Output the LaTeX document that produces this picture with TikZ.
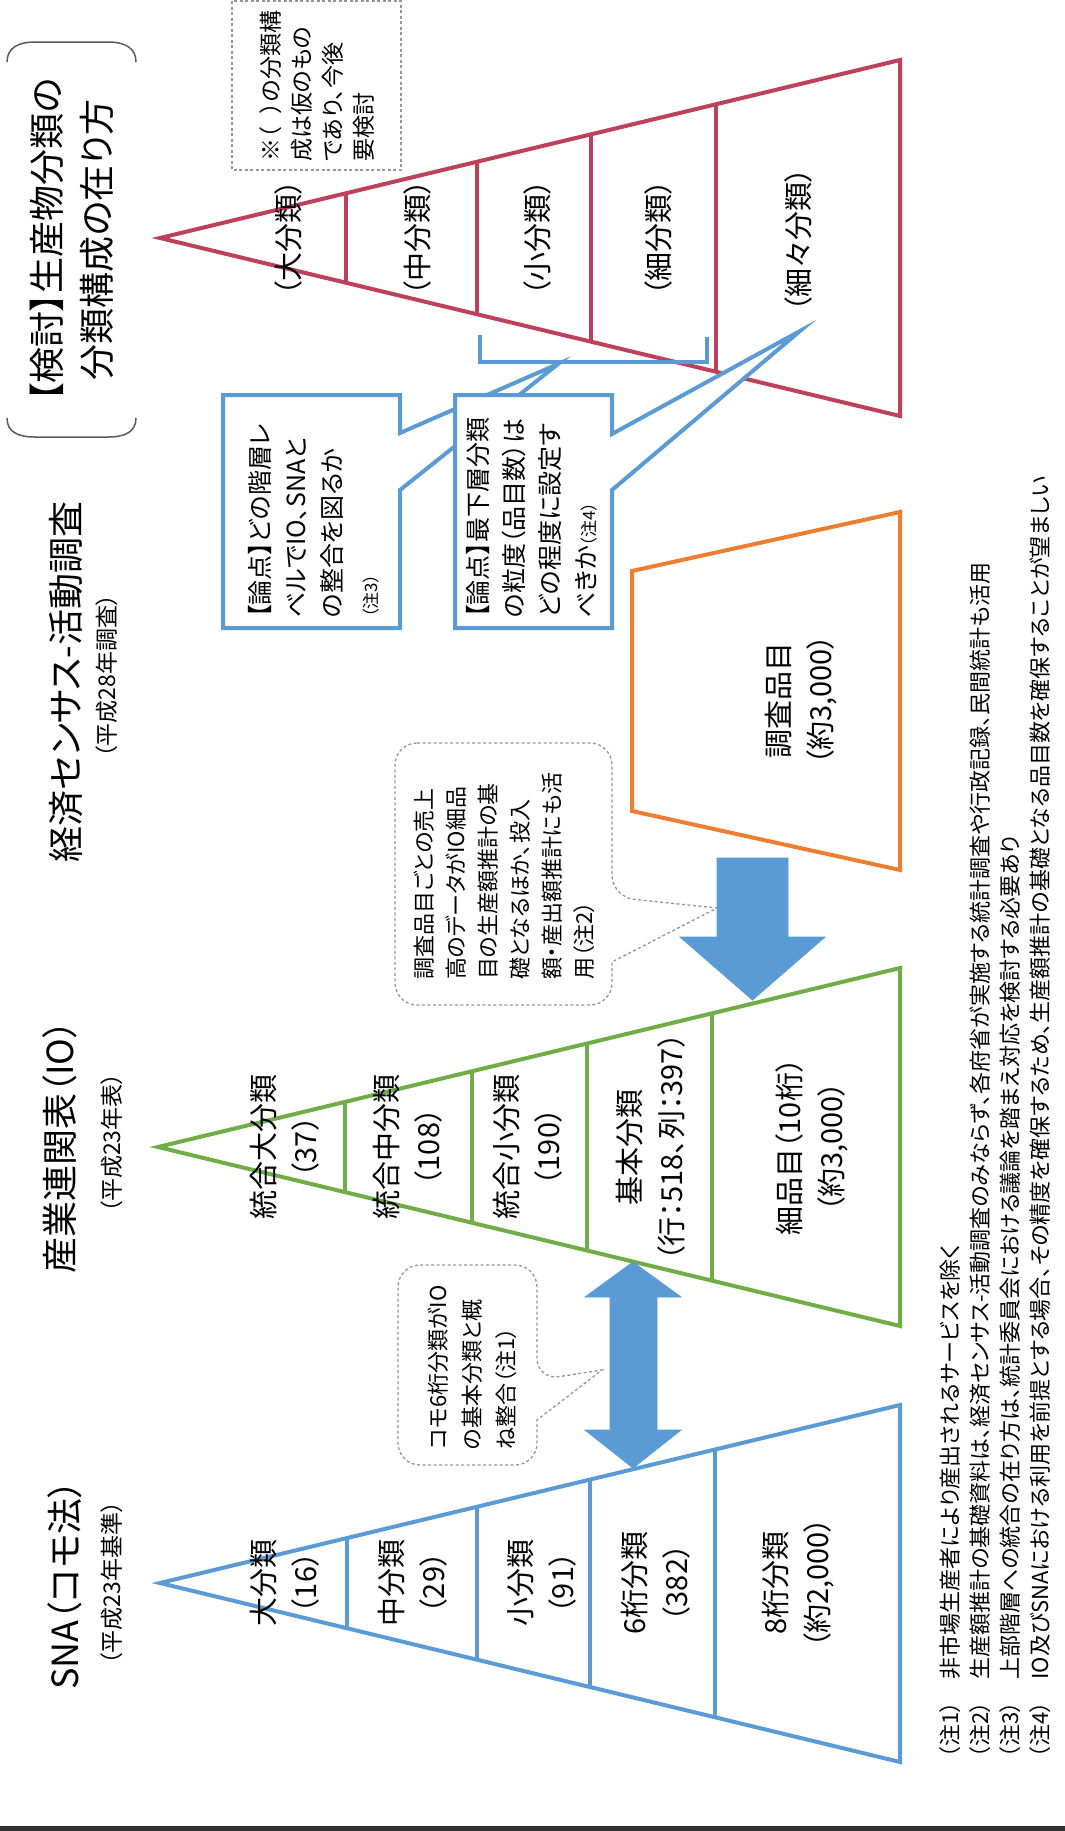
\documentclass[tikz,border=0pt]{standalone}
\usepackage{fontspec}
\setmainfont{Noto Sans CJK JP}[RawFeature=+palt]
\usetikzlibrary{calc}
\definecolor{redc}{RGB}{191,64,90}
\definecolor{greenc}{RGB}{112,173,71}
\definecolor{bluec}{RGB}{91,155,213}
\definecolor{orangec}{RGB}{237,125,49}
\definecolor{dashc}{RGB}{150,150,150}
\definecolor{arrowc}{RGB}{91,155,213}
\definecolor{brkc}{RGB}{90,90,90}
\begin{document}
\begin{tikzpicture}[x=1pt,y=-1pt,
  shapeline/.style={line width=4pt},
  lab/.style={rotate=90, align=center, inner sep=0pt, font=\fontsize{29}{42}\selectfont},
  ttl/.style={rotate=90, align=center, inner sep=0pt, font=\fontsize{36}{50}\selectfont},
  subt/.style={rotate=90, align=center, inner sep=0pt, font=\fontsize{23}{28}\selectfont},
  boxt/.style={rotate=90, align=left, inner sep=0pt, anchor=west, font=\fontsize{25}{36}\selectfont},
  bubt/.style={rotate=90, align=left, inner sep=0pt, anchor=west, font=\fontsize{22}{32}\selectfont},
  dashbox/.style={draw=dashc, line width=1.3pt, dash pattern=on 3pt off 2.5pt},
  callout/.style={draw=bluec, line width=4pt, fill=white, line join=miter},
  blockarrow/.style={fill=arrowc, draw=arrowc, line width=0.8pt}
]
\useasboundingbox (0,0) rectangle (1065,1831);
\fill[white] (0,0) rectangle (1065,1831);

% ---------- title ----------
\node[ttl] (t0) at (72,240) {【検討】生産物分類の\\分類構成の在り方};
\draw[brkc, line width=1.5pt] (7,62) .. controls (7,48) and (18,42) .. (35,42) -- (108,42) .. controls (125,42) and (136,48) .. (136,62);
\draw[brkc, line width=1.5pt] (7,418) .. controls (7,432) and (18,437) .. (35,437) -- (108,437) .. controls (125,437) and (136,432) .. (136,418);

% ---------- red triangle ----------
\coordinate (Ra) at (160,238);
\coordinate (Rt) at (900,60);
\coordinate (Rb) at (900,416);
\draw[redc, shapeline] (Ra) -- (Rt) -- (Rb) -- cycle;
\foreach \t in {0.2514,0.4284,0.5824,0.7514}
  \draw[redc, shapeline] ($(Ra)!\t!(Rt)$) -- ($(Ra)!\t!(Rb)$);
\node[lab] (r1) at (288,238) {（大分類）};
\node[lab] (r2) at (417,238) {（中分類）};
\node[lab] (r3) at (537,238) {（小分類）};
\node[lab] (r4) at (658,238) {（細分類）};
\node[lab] (r5) at (798,240) {（細々分類）};

% dashed note
\draw[dashbox] (232,1) rectangle (401,170);
\node[bubt, font=\fontsize{23}{31}\selectfont] (nt) at (317,162) {※（\hspace{0.6em}）の分類構\\成は仮のもの\\であり、今後\\要検討};

% ---------- blue bracket and callouts ----------
\draw[bluec, line width=4pt] (480,335) -- (480,362) -- (707,362) -- (707,337);
\coordinate (c1tip) at (558,364);
\coordinate (c2tip) at (800,331);
\draw[callout] (223,395) -- (400,395) -- (400,433) -- (c1tip) -- (400,490) -- (400,628) -- (223,628) -- cycle;
\node[boxt] (b1t) at (314,618) {【論点】どの階層レ\\ベルでIO、SNAと\\の整合を図るか\\{\fontsize{17}{36}\selectfont（注3）}};
\draw[callout] (455,395) -- (612,395) -- (612,434) -- (c2tip) -- (612,490) -- (612,628) -- (455,628) -- cycle;
\node[boxt] (b2t) at (532,618) {【論点】最下層分類\\の粒度（品目数）は\\どの程度に設定す\\べきか{\fontsize{17}{36}\selectfont（注4）}};

% ---------- Economic census ----------
\node[ttl] (t1) at (66,682) {経済センサス-活動調査};
\node[subt] (t1s) at (107,676) {（平成28年調査）};
\draw[orangec, shapeline] (632,571) -- (900,512) -- (900,870) -- (632,811) -- cycle;
\node[lab] (o1) at (801,700) {調査品目\\（約3,000）};

% bubble 1
\draw[dashbox, fill=white] (395,743) [rounded corners=22pt] -- (612,743) -- (612,897) [sharp corners] -- (717,908) -- (612,962) [rounded corners=22pt] -- (612,1005) -- (395,1005) -- cycle;
\node[bubt] (bb1) at (504,980) {調査品目ごとの売上\\高のデータがIO細品\\目の生産額推計の基\\礎となるほか、投入\\額・産出額推計にも活\\用（注2）};

% down arrow
\fill[blockarrow] (717,858) -- (788,858) -- (788,937) -- (825,937) -- (752.5,1000) -- (680,937) -- (717,937) -- cycle;

% ---------- IO ----------
\node[ttl] (t2) at (60,1147) {産業連関表（IO）};
\node[subt] (t2s) at (112,1143) {（平成23年表）};
\coordinate (Ga) at (158,1147);
\coordinate (Gt) at (900,968);
\coordinate (Gb) at (900,1326);
\draw[greenc, shapeline] (Ga) -- (Gt) -- (Gb) -- cycle;
\foreach \t in {0.252,0.4232,0.5782,0.7466}
  \draw[greenc, shapeline] ($(Ga)!\t!(Gt)$) -- ($(Ga)!\t!(Gb)$);
\node[lab] (g1) at (285,1147) {統合大分類\\（37）};
\node[lab] (g2) at (408,1147) {統合中分類\\（108）};
\node[lab] (g3) at (528,1147) {統合小分類\\（190）};
\node[lab] (g4) at (651,1147) {基本分類\\（行：518、列：397）};
\node[lab] (g5) at (812,1147) {細品目（10桁）\\（約3,000）};

% bubble 2
\draw[dashbox, fill=white] (398,1265) [rounded corners=22pt] -- (537,1265) -- (537,1380) [sharp corners] -- (602,1370) -- (537,1420) [rounded corners=22pt] -- (537,1465) -- (398,1465) -- cycle;
\node[bubt, font=\fontsize{22}{34}\selectfont] (bb2) at (472,1450) {コモ6桁分類がIO\\の基本分類と概\\ね整合（注1）};

% double arrow
\fill[blockarrow] (610,1297) -- (585,1297) -- (633,1262) -- (681,1297) -- (657,1297) -- (657,1430) -- (681,1430) -- (633,1468) -- (585,1430) -- (610,1430) -- cycle;

% ---------- SNA ----------
\node[ttl] (t3) at (65,1585) {SNA（コモ法）};
\node[subt] (t3s) at (112,1583) {（平成23年基準）};
\coordinate (Sa) at (160,1583);
\coordinate (St) at (900,1405);
\coordinate (Sb) at (900,1762);
\draw[bluec, shapeline] (Sa) -- (St) -- (Sb) -- cycle;
\foreach \t in {0.2527,0.4284,0.5811,0.75}
  \draw[bluec, shapeline] ($(Sa)!\t!(St)$) -- ($(Sa)!\t!(Sb)$);
\node[lab] (s1) at (285,1583) {大分類\\（16）};
\node[lab] (s2) at (413,1583) {中分類\\（29）};
\node[lab] (s3) at (542,1583) {小分類\\（91）};
\node[lab] (s4) at (656,1583) {6桁分類\\（382）};
\node[lab] (s5) at (798,1583) {8桁分類\\（約2,000）};

% ---------- notes ----------
\node[bubt, font=\fontsize{22}{30}\selectfont] (notes) at (995,1758) {（注1）\hspace{22pt}非市場生産者により産出されるサービスを除く\\（注2）\hspace{22pt}生産額推計の基礎資料は、経済センサス-活動調査のみならず、各府省が実施する統計調査や行政記録、民間統計も活用\\（注3）\hspace{22pt}上部階層への統合の在り方は、統計委員会における議論を踏まえ対応を検討する必要あり\\（注4）\hspace{22pt}IO及びSNAにおける利用を前提とする場合、その精度を確保するため、生産額推計の基礎となる品目数を確保することが望ましい};

% bottom rule
\draw[black!80, line width=5pt] (0,1828) -- (1065,1828);
\end{tikzpicture}
\end{document}
